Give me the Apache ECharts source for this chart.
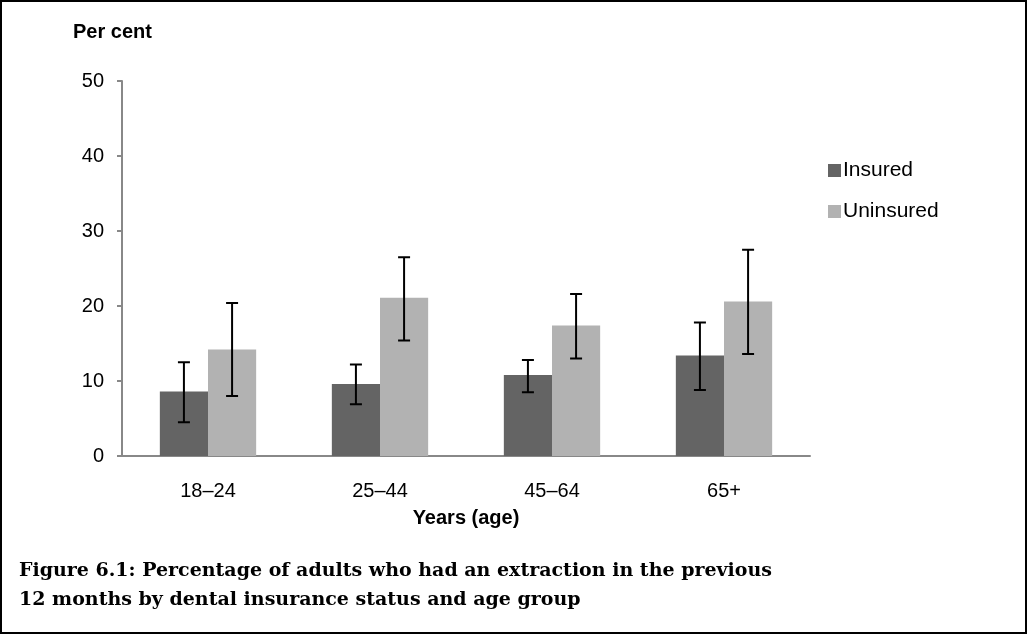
<!DOCTYPE html>
<html><head><meta charset="utf-8">
<script src="https://cdn.jsdelivr.net/npm/echarts@6/dist/echarts.min.js"></script>
<style>
html,body{margin:0;padding:0;background:#fff;}
#wrap{position:absolute;left:0;top:0;width:1023px;height:630px;border:2px solid #000;background:#fff;}
#chart{position:absolute;left:0;top:0;width:1023px;height:630px;}
</style></head>
<body><div id="wrap"><div id="chart"></div></div>
<script>
const categories = ['18–24', '25–44', '45–64', '65+'];
const seriesNames = ['Insured', 'Uninsured'];
const insured = [8.6, 9.6, 10.8, 13.4];
const insuredLow = [4.5, 6.9, 8.5, 8.8];
const insuredHigh = [12.5, 12.2, 12.8, 17.8];
const uninsured = [14.2, 21.1, 17.4, 20.6];
const uninsuredLow = [8.0, 15.4, 13.0, 13.6];
const uninsuredHigh = [20.4, 26.5, 21.6, 27.5];
const yTicks = [0, 10, 20, 30, 40, 50];

const chart = echarts.init(document.getElementById('chart'), null, {renderer: 'canvas'});

function errSeries(low, high, sign) {
  return {
    type: 'custom',
    z: 10,
    data: categories.map((c, i) => [i, low[i], high[i]]),
    renderItem: function (params, api) {
      const band = api.size([1, 0])[0];
      const x = api.coord([api.value(0), 0])[0] + sign * band * 0.14;
      const lo = api.coord([api.value(0), api.value(1)])[1];
      const hi = api.coord([api.value(0), api.value(2)])[1];
      const cw = 6;
      const st = {stroke: '#000', lineWidth: 2};
      return {type: 'group', children: [
        {type: 'line', shape: {x1: x, y1: lo, x2: x, y2: hi}, style: st},
        {type: 'line', shape: {x1: x - cw, y1: lo, x2: x + cw, y2: lo}, style: st},
        {type: 'line', shape: {x1: x - cw, y1: hi, x2: x + cw, y2: hi}, style: st}
      ]};
    }
  };
}

chart.setOption({
  animation: false,
  textStyle: {fontFamily: 'Liberation Sans'},
  grid: {left: 120, top: 79, width: 688, height: 375, containLabel: false},
  legend: {
    orient: 'vertical', left: 821, top: 153, itemGap: 20,
    itemWidth: 13, itemHeight: 13, icon: 'rect',
    data: seriesNames,
    textStyle: {fontSize: 21, color: '#000', fontFamily: 'Liberation Sans', padding: [0, 0, 0, -3]}
  },
  title: [
    {text: 'Per cent', left: 66, top: 15, textStyle: {fontSize: 20, fontWeight: 'bold', color: '#000', fontFamily: 'Liberation Sans'}},
    {text: 'Figure 6.1: Percentage of adults who had an extraction in the previous\n12 months by dental insurance status and age group',
     left: 12, top: 550, textStyle: {fontSize: 19, fontWeight: 'bold', color: '#000', fontFamily: 'DejaVu Serif', lineHeight: 29}}
  ],
  xAxis: {
    type: 'category', data: categories,
    name: 'Years (age)', nameLocation: 'middle', nameGap: 52,
    nameTextStyle: {fontSize: 20, fontWeight: 'bold', color: '#000', fontFamily: 'Liberation Sans'},
    axisLine: {lineStyle: {color: '#888', width: 2}},
    axisTick: {show: false},
    axisLabel: {fontSize: 20, color: '#000', margin: 25}
  },
  yAxis: {
    type: 'value', min: 0, max: 50, interval: 10,
    axisLine: {show: true, lineStyle: {color: '#888', width: 2}},
    axisTick: {show: true, length: 5, lineStyle: {color: '#888', width: 2}},
    splitLine: {show: false},
    axisLabel: {fontSize: 20, color: '#000', margin: 18,
      formatter: v => yTicks.indexOf(v) >= 0 ? String(v) : ''}
  },
  series: [
    {name: 'Insured', type: 'bar', data: insured, barWidth: '28%', barGap: '0%',
     itemStyle: {color: '#646464'}},
    {name: 'Uninsured', type: 'bar', data: uninsured, barWidth: '28%', barGap: '0%',
     itemStyle: {color: '#b2b2b2'}},
    errSeries(insuredLow, insuredHigh, -1),
    errSeries(uninsuredLow, uninsuredHigh, 1)
  ]
});
</script></body></html>
